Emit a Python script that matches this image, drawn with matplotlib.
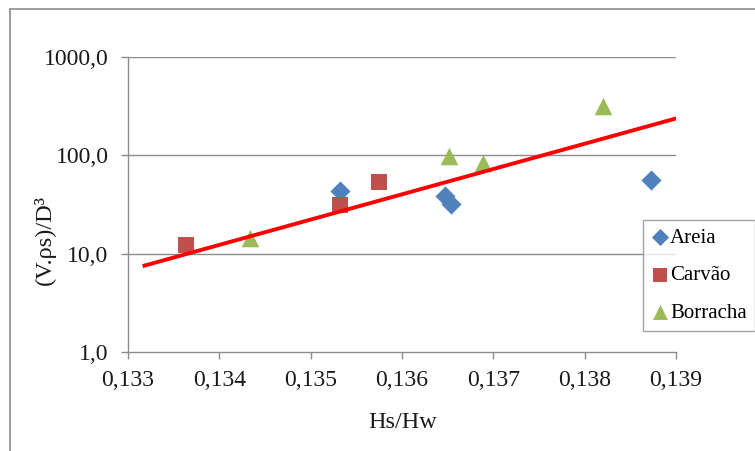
import matplotlib.pyplot as plt
import matplotlib.ticker as mticker
from matplotlib.patches import Rectangle

# data
areia_x = [0.13532, 0.13647, 0.13654, 0.13873]
areia_y = [43.2, 38.4, 32.1, 55.8]
carvao_x = [0.13364, 0.13532, 0.13575]
carvao_y = [12.2, 31.6, 53.3]
borracha_x = [0.13434, 0.13651, 0.13689, 0.13820]
borracha_y = [14.3, 99.5, 83.8, 315.0]
trend_x = [0.13316, 0.13902]
trend_y = [7.47, 240.0]

x_ticks = [0.133, 0.134, 0.135, 0.136, 0.137, 0.138, 0.139]
y_ticks = [1, 10, 100, 1000]

plt.rcParams['font.family'] = ['Liberation Serif', 'DejaVu Serif']

fig = plt.figure(figsize=(7.55, 4.51), dpi=100)
W, H = 755, 451
ax = fig.add_axes([128 / W, 1 - 352 / H, (676 - 128) / W, (352 - 57) / H])

# chart area border (cut off at right/bottom like the screenshot)
fig.patches.append(Rectangle((10 / W, -0.1), 1.1, 1 - 9 / H + 0.1, transform=fig.transFigure,
                             fill=False, edgecolor='#8c8c8c', linewidth=1.2, figure=fig))

ax.set_yscale('log')
ax.set_xlim(0.133, 0.139)
ax.set_ylim(1, 1000)

for y in [10, 100, 1000]:
    ax.axhline(y, color='#8c8c8c', linewidth=1.0, zorder=1)

ax.scatter(areia_x, areia_y, marker='D', s=105, color='#4F81BD', label='Areia', zorder=3, linewidths=0)
ax.scatter(carvao_x, carvao_y, marker='s', s=130, color='#C0504D', label='Carvão', zorder=3, linewidths=0)
ax.scatter(borracha_x, borracha_y, marker='^', s=160, color='#9BBB59', label='Borracha', zorder=3, linewidths=0)
ax.plot(trend_x, trend_y, color='#FF0000', linewidth=2.8, zorder=4, solid_capstyle='butt')

ax.set_xticks(x_ticks)
ax.set_yticks(y_ticks)
ax.yaxis.set_minor_locator(mticker.NullLocator())
ax.xaxis.set_major_formatter(mticker.FuncFormatter(lambda v, p: '{:.3f}'.format(v).replace('.', ',')))
ax.yaxis.set_major_formatter(mticker.FuncFormatter(lambda v, p: '{:.1f}'.format(v).replace('.', ',')))

for s in ['top', 'right']:
    ax.spines[s].set_visible(False)
for s in ['left', 'bottom']:
    ax.spines[s].set_color('#8c8c8c')
    ax.spines[s].set_linewidth(1.0)
ax.tick_params(axis='both', direction='out', length=5, width=1.0, color='#8c8c8c',
               labelsize=17, labelcolor='#1a1a1a')
ax.tick_params(axis='x', pad=8)
ax.tick_params(axis='y', pad=9)

fig.text(403 / W, 1 - 422 / H, 'Hs/Hw', ha='center', va='center', fontsize=17.5, color='#1a1a1a')
fig.text(45 / W, 1 - 240 / H, '(V.ρs)/D³', ha='center', va='center', rotation=90,
         fontsize=17.5, color='#1a1a1a')

leg = ax.legend(loc='upper left', bbox_to_anchor=(643 / W, 1 - 220 / H), bbox_transform=fig.transFigure,
                fontsize=15, frameon=True, fancybox=False, edgecolor='#8c8c8c',
                handletextpad=0.1, handlelength=0.8, borderpad=0.4, labelspacing=0.85,
                borderaxespad=0, markerscale=0.85)
leg.get_frame().set_linewidth(1.0)
leg.set_zorder(5)

fig.savefig('out.png', dpi=100)
